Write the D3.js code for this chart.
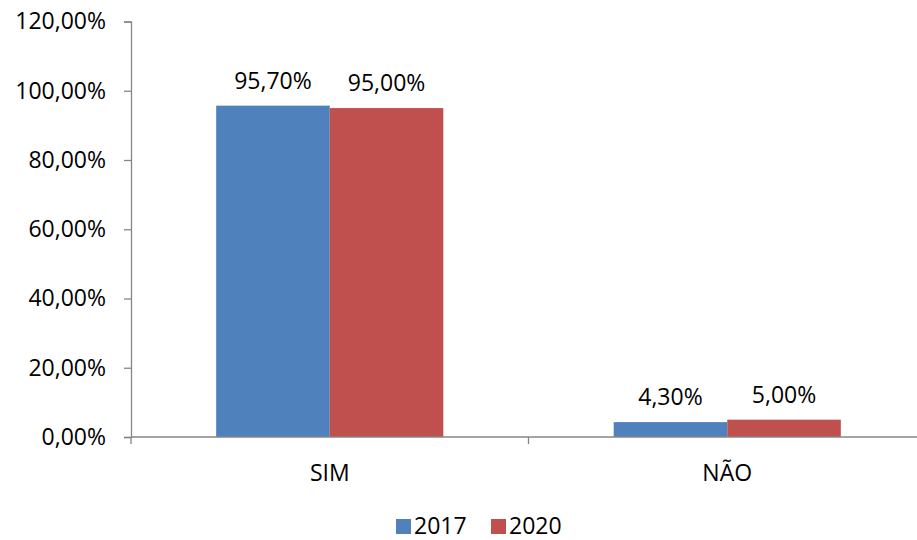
<!DOCTYPE html>
<html>
<head>
<meta charset="utf-8">
<script src="https://d3js.org/d3.v7.min.js"></script>
<style>
  body { margin: 0; background: #fff; }
  svg text { font-family: "Open Sans", "Noto Sans", sans-serif; fill: #000; }
</style>
</head>
<body>
<svg width="917" height="540"></svg>
<script>
// data
var categories = ["SIM", "NÃO"];
var series = ["2017", "2020"];
var values2017 = [95.7, 4.3];
var values2020 = [95.0, 5.0];
var valueLabels2017 = ["95,70%", "4,30%"];
var valueLabels2020 = ["95,00%", "5,00%"];
var yTicks = [0, 20, 40, 60, 80, 100, 120];
var colors = ["#4F81BD", "#C0504D"];

(function() {
var svg = d3.select("svg");
var plotLeft = 131, plotRight = 926, plotTop = 21.5, plotBottom = 437;
var fontSize = 23;

var y = d3.scaleLinear().domain([0, 120]).range([plotBottom, plotTop]);

var x0 = d3.scaleBand().domain(categories).range([plotLeft, plotRight]).paddingInner(0).paddingOuter(0);

var x1 = d3.scaleBand().domain(series).range([0, x0.bandwidth()])
  .paddingInner(0).paddingOuter(0.75);

var color = d3.scaleOrdinal().domain(series).range(colors);

var rows = categories.map(function(c, i) {
  return [
    { cat: c, s: "2017", v: values2017[i], label: valueLabels2017[i] },
    { cat: c, s: "2020", v: values2020[i], label: valueLabels2020[i] }
  ];
});

// y axis
var yAxis = svg.append("g")
  .attr("transform", "translate(" + plotLeft + ",0)")
  .call(d3.axisLeft(y).tickValues(yTicks).tickSize(7).tickPadding(18)
    .tickFormat(function(d) { return d3.format(".2f")(d).replace(".", ",") + "%"; }));
yAxis.select(".domain").attr("stroke", "#868686").attr("stroke-width", 1.3);
yAxis.selectAll(".tick line").attr("stroke", "#868686").attr("stroke-width", 1.3);
yAxis.selectAll(".tick text").attr("font-size", fontSize).attr("font-family", "'Open Sans', sans-serif");

// bars
var groups = svg.append("g").selectAll("g")
  .data(rows)
  .join("g")
  .attr("transform", function(d, i) { return "translate(" + x0(categories[i]) + ",0)"; });

groups.selectAll("rect")
  .data(function(d) { return d; })
  .join("rect")
  .attr("x", function(d) { return x1(d.s); })
  .attr("width", x1.bandwidth())
  .attr("y", function(d) { return y(d.v); })
  .attr("height", function(d) { return y(0) - y(d.v); })
  .attr("fill", function(d) { return color(d.s); });

groups.selectAll("text")
  .data(function(d) { return d; })
  .join("text")
  .attr("x", function(d) { return x1(d.s) + x1.bandwidth() / 2; })
  .attr("y", function(d) { return y(d.v) - 17; })
  .attr("text-anchor", "middle")
  .attr("font-size", fontSize)
  .text(function(d) { return d.label; });

// x axis
var xAxis = svg.append("g")
  .attr("transform", "translate(0," + plotBottom + ")");
xAxis.append("line")
  .attr("x1", plotLeft).attr("x2", plotRight)
  .attr("stroke", "#868686").attr("stroke-width", 1.3);
xAxis.selectAll(".sep")
  .data(categories.concat(["end"]))
  .join("line")
  .attr("class", "sep")
  .attr("x1", function(d, i) { return i < categories.length ? x0(d) : x0.range()[1]; })
  .attr("x2", function(d, i) { return i < categories.length ? x0(d) : x0.range()[1]; })
  .attr("y1", 0).attr("y2", 7)
  .attr("stroke", "#868686").attr("stroke-width", 1.3);
xAxis.selectAll(".cat")
  .data(categories)
  .join("text")
  .attr("class", "cat")
  .attr("x", function(d) { return x0(d) + x0.bandwidth() / 2; })
  .attr("y", 44)
  .attr("text-anchor", "middle")
  .attr("font-size", fontSize)
  .text(function(d) { return d; });

// legend
var legendX = [396, 491];
var legend = svg.append("g").selectAll("g")
  .data(series)
  .join("g")
  .attr("transform", function(d, i) { return "translate(" + legendX[i] + ",519)"; });
legend.append("rect")
  .attr("width", 15).attr("height", 15)
  .attr("fill", function(d) { return color(d); });
legend.append("text")
  .attr("x", 18).attr("y", 15)
  .attr("font-size", fontSize)
  .text(function(d) { return d; });
})();
</script>
</body>
</html>
